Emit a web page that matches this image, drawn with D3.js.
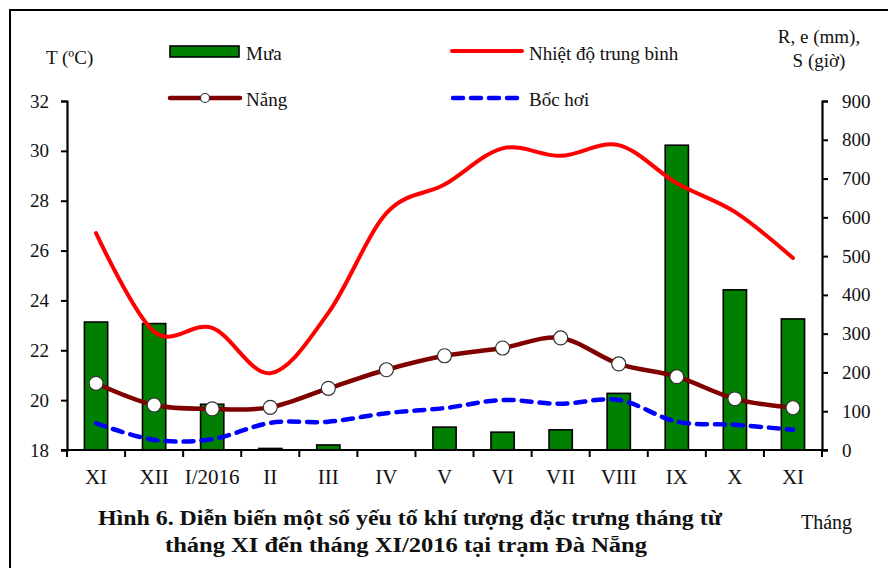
<!DOCTYPE html>
<html>
<head>
<meta charset="utf-8">
<script src="https://cdn.jsdelivr.net/npm/d3@7"></script>
<style>
  html, body { margin: 0; padding: 0; background: #fff; }
  svg { display: block; }
  text { font-family: "Liberation Serif", "Times New Roman", serif; fill: #111; }
</style>
</head>
<body>
<svg id="chart" width="888" height="568"></svg>
<script>
// Monthly climate data, Đà Nẵng station, XI/2015 – XI/2016
const months = ["XI", "XII", "I/2016", "II", "III", "IV", "V", "VI", "VII", "VIII", "IX", "X", "XI"];
const rainfall = [330, 326, 118, 4, 13, 0, 59, 46, 52, 146, 786, 413, 338];          // R (mm)
const temperature = [26.7, 22.75, 22.9, 21.08, 23.5, 27.5, 28.65, 30.1, 29.8, 30.23, 28.7, 27.55, 25.7]; // T (°C)
const sunshine = [172, 116, 106, 110, 159, 207, 243, 263, 289, 222, 189, 132, 109];   // S (giờ)
const evaporation = [69, 26, 28, 70, 73, 95, 108, 129, 119, 129, 73, 65, 52];        // e (mm)
const leftTicks = [18, 20, 22, 24, 26, 28, 30, 32];
const rightTicks = [0, 100, 200, 300, 400, 500, 600, 700, 800, 900];

const svg = d3.select("#chart");
const plot = { left: 67, right: 822, top: 101, bottom: 450 };

const idx = months.map((_, i) => i);
const x = d3.scaleBand().domain(idx).range([plot.left, plot.right]).paddingInner(0).paddingOuter(0);
const yL = d3.scaleLinear().domain([18, 32]).range([plot.bottom, plot.top]);
const yR = d3.scaleLinear().domain([0, 900]).range([plot.bottom, plot.top]);
const cx = i => x(i) + x.bandwidth() / 2;

// outer frame
svg.append("rect")
  .attr("x", 10).attr("y", 10).attr("width", 900).attr("height", 600)
  .attr("fill", "none").attr("stroke", "#000").attr("stroke-width", 2);

// rainfall bars
const barW = x.bandwidth() * 0.4;
svg.append("g").selectAll("rect").data(rainfall).join("rect")
  .attr("x", (d, i) => cx(i) - barW / 2)
  .attr("y", d => yR(d))
  .attr("width", barW)
  .attr("height", d => plot.bottom - yR(d))
  .attr("fill", "#008000")
  .attr("stroke", "#000")
  .attr("stroke-width", 1.6);

const smooth = d3.curveCardinal.tension(0);

// temperature line
svg.append("path")
  .datum(temperature)
  .attr("fill", "none").attr("stroke", "#ff0000").attr("stroke-width", 4)
  .attr("stroke-linecap", "round")
  .attr("d", d3.line().x((d, i) => cx(i)).y(d => yL(d)).curve(smooth));

// evaporation line
svg.append("path")
  .datum(evaporation)
  .attr("fill", "none").attr("stroke", "#0000ff").attr("stroke-width", 4.5)
  .attr("stroke-dasharray", "10,8").attr("stroke-linecap", "round")
  .attr("d", d3.line().x((d, i) => cx(i)).y(d => yR(d)).curve(smooth));

// sunshine line with markers
svg.append("path")
  .datum(sunshine)
  .attr("fill", "none").attr("stroke", "#800000").attr("stroke-width", 4.5)
  .attr("d", d3.line().x((d, i) => cx(i)).y(d => yR(d)).curve(smooth));
svg.append("g").selectAll("circle").data(sunshine).join("circle")
  .attr("cx", (d, i) => cx(i)).attr("cy", d => yR(d)).attr("r", 7)
  .attr("fill", "#fff").attr("stroke", "#333").attr("stroke-width", 1.2);

// axes
const axisFont = 19;
const gL = svg.append("g").attr("transform", `translate(${plot.left},0)`)
  .call(d3.axisLeft(yL).tickValues(leftTicks).tickSize(6).tickPadding(12).tickFormat(d3.format("d")));
const gR = svg.append("g").attr("transform", `translate(${plot.right},0)`)
  .call(d3.axisRight(yR).tickValues(rightTicks).tickSize(6).tickPadding(14).tickFormat(d3.format("d")));
[gL, gR].forEach(g => {
  g.select(".domain").attr("stroke", "#000").attr("stroke-width", 2.2);
  g.selectAll(".tick line").attr("stroke", "#000").attr("stroke-width", 2);
  g.selectAll(".tick text").attr("font-size", axisFont)
    .attr("font-family", "Liberation Serif").attr("fill", "#111");
});

// category axis: baseline, boundary ticks, labels
const gB = svg.append("g");
gB.append("line")
  .attr("x1", plot.left - 6).attr("x2", plot.right + 6)
  .attr("y1", plot.bottom).attr("y2", plot.bottom)
  .attr("stroke", "#000").attr("stroke-width", 2.2);
const bounds = idx.map(i => x(i)).concat([plot.right]);
gB.selectAll("line.tb").data(bounds).join("line").attr("class", "tb")
  .attr("x1", d => d).attr("x2", d => d)
  .attr("y1", plot.bottom).attr("y2", plot.bottom + 7)
  .attr("stroke", "#000").attr("stroke-width", 2);
gB.selectAll("text").data(months).join("text")
  .attr("x", (d, i) => cx(i)).attr("y", 484)
  .attr("text-anchor", "middle").attr("font-size", 21)
  .text(d => d);

// axis titles
svg.append("text").attr("x", 46).attr("y", 64).attr("font-size", 19).text("T (ºC)");
svg.append("text").attr("x", 819).attr("y", 43).attr("font-size", 19)
  .attr("text-anchor", "middle").text("R, e (mm),");
svg.append("text").attr("x", 819).attr("y", 67).attr("font-size", 19)
  .attr("text-anchor", "middle").text("S (giờ)");
svg.append("text").attr("x", 801).attr("y", 529).attr("font-size", 20).text("Tháng");

// legend
const lg = svg.append("g");
lg.append("rect").attr("x", 170).attr("y", 46).attr("width", 69).attr("height", 11)
  .attr("fill", "#008000").attr("stroke", "#000").attr("stroke-width", 1.6);
lg.append("text").attr("x", 246).attr("y", 60).attr("font-size", 19).text("Mưa");

lg.append("line").attr("x1", 170).attr("x2", 240).attr("y1", 98).attr("y2", 98)
  .attr("stroke", "#800000").attr("stroke-width", 4.5).attr("stroke-linecap", "round");
lg.append("circle").attr("cx", 205).attr("cy", 98).attr("r", 4.5)
  .attr("fill", "#fff").attr("stroke", "#333").attr("stroke-width", 1.2);
lg.append("text").attr("x", 246).attr("y", 106).attr("font-size", 19).text("Nắng");

lg.append("line").attr("x1", 452).attr("x2", 522).attr("y1", 51).attr("y2", 51)
  .attr("stroke", "#ff0000").attr("stroke-width", 4).attr("stroke-linecap", "round");
lg.append("text").attr("x", 529).attr("y", 60).attr("font-size", 19).text("Nhiệt độ trung bình");

lg.append("line").attr("x1", 453).attr("x2", 522).attr("y1", 98).attr("y2", 98)
  .attr("stroke", "#0000ff").attr("stroke-width", 4.5)
  .attr("stroke-dasharray", "10,8").attr("stroke-linecap", "round");
lg.append("text").attr("x", 529).attr("y", 106).attr("font-size", 19).text("Bốc hơi");

// caption
svg.append("text").attr("x", 98).attr("y", 525).attr("font-size", 20).attr("font-weight", "bold")
  .attr("textLength", 624).attr("lengthAdjust", "spacingAndGlyphs")
  .text("Hình 6. Diễn biến một số yếu tố khí tượng đặc trưng tháng từ");
svg.append("text").attr("x", 165).attr("y", 552).attr("font-size", 20).attr("font-weight", "bold")
  .attr("textLength", 482).attr("lengthAdjust", "spacingAndGlyphs")
  .text("tháng XI đến tháng XI/2016 tại trạm Đà Nẵng");
</script>
</body>
</html>
